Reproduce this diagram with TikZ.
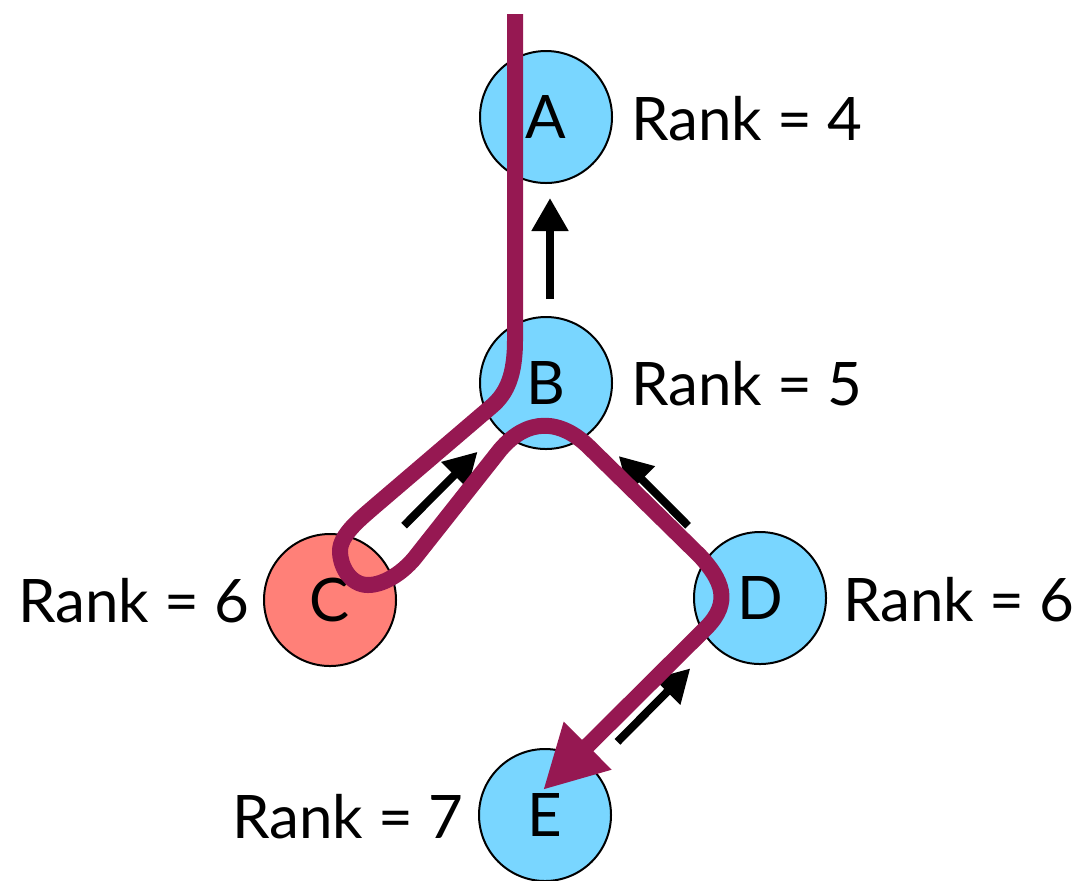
\documentclass[tikz,border=0pt]{standalone}
\usepackage{fontspec}
\setmainfont{Lato}
\usetikzlibrary{arrows.meta}
\definecolor{nodeblue}{RGB}{121,214,255}
\definecolor{nodered}{RGB}{255,128,120}
\definecolor{trailc}{RGB}{150,24,82}
\begin{document}
\begin{tikzpicture}[x=0.5pt,y=-0.5pt,
  vert/.style={circle, draw=black, line width=1pt, fill=nodeblue, minimum size=66pt, inner sep=0pt, font=\fontsize{30}{36}\selectfont},
  lab/.style={font=\fontsize{30}{36}\selectfont, inner sep=0pt},
  conn/.style={line width=4pt, -{Triangle[length=16.5pt,width=17.5pt]}},
  trail/.style={line width=8pt, draw=trailc, line join=round, -{Triangle[length=31.5pt,width=31.5pt]}}]
\useasboundingbox (0,0) rectangle (1080,880);
% vertices
\node[vert] (A) at (546,117) {A};
\node[vert] (B) at (546,383) {B};
\node[vert, fill=nodered] (C) at (330,600) {C};
\node[vert] (D) at (760,598) {D};
\node[vert] (E) at (545,815) {E};
% rank labels
\node[lab, anchor=base west] (lA) at (631,140) {Rank = 4};
\node[lab, anchor=base west] (lB) at (631,405) {Rank = 5};
\node[lab, anchor=base east] (lC) at (250,622) {Rank = 6};
\node[lab, anchor=base west] (lD) at (843,621) {Rank = 6};
\node[lab, anchor=base east] (lE) at (464,838) {Rank = 7};
% parent pointers
\draw[conn, shorten <=8.5pt, shorten >=7pt] ([xshift=2pt]B.north) -- ([xshift=2pt]A.south);
\draw[conn, shorten <=19pt, shorten >=15pt] (C) -- (B);
\draw[conn, shorten <=17.5pt, shorten >=18pt] (D) -- (B);
\draw[conn, shorten <=18pt, shorten >=16pt] (E) -- (D);
% traversal trail
\coordinate (trailstart) at (515,14);
\coordinate (trailend) at (543,790);
\draw[trail] (trailstart) -- (515,340)
  .. controls (515,375) and (507,393) .. (492,406)
  -- (375,506)
  .. controls (360,519) and (340,535) .. (340,551)
  .. controls (340,566) and (350,585) .. (368,585)
  .. controls (385,585) and (405,571) .. (417,555)
  -- (500,450)
  .. controls (527,418) and (560,418) .. (590,448)
  -- (700,556)
  .. controls (722,580) and (732,602) .. (706,628)
  -- (trailend);
\end{tikzpicture}
\end{document}
